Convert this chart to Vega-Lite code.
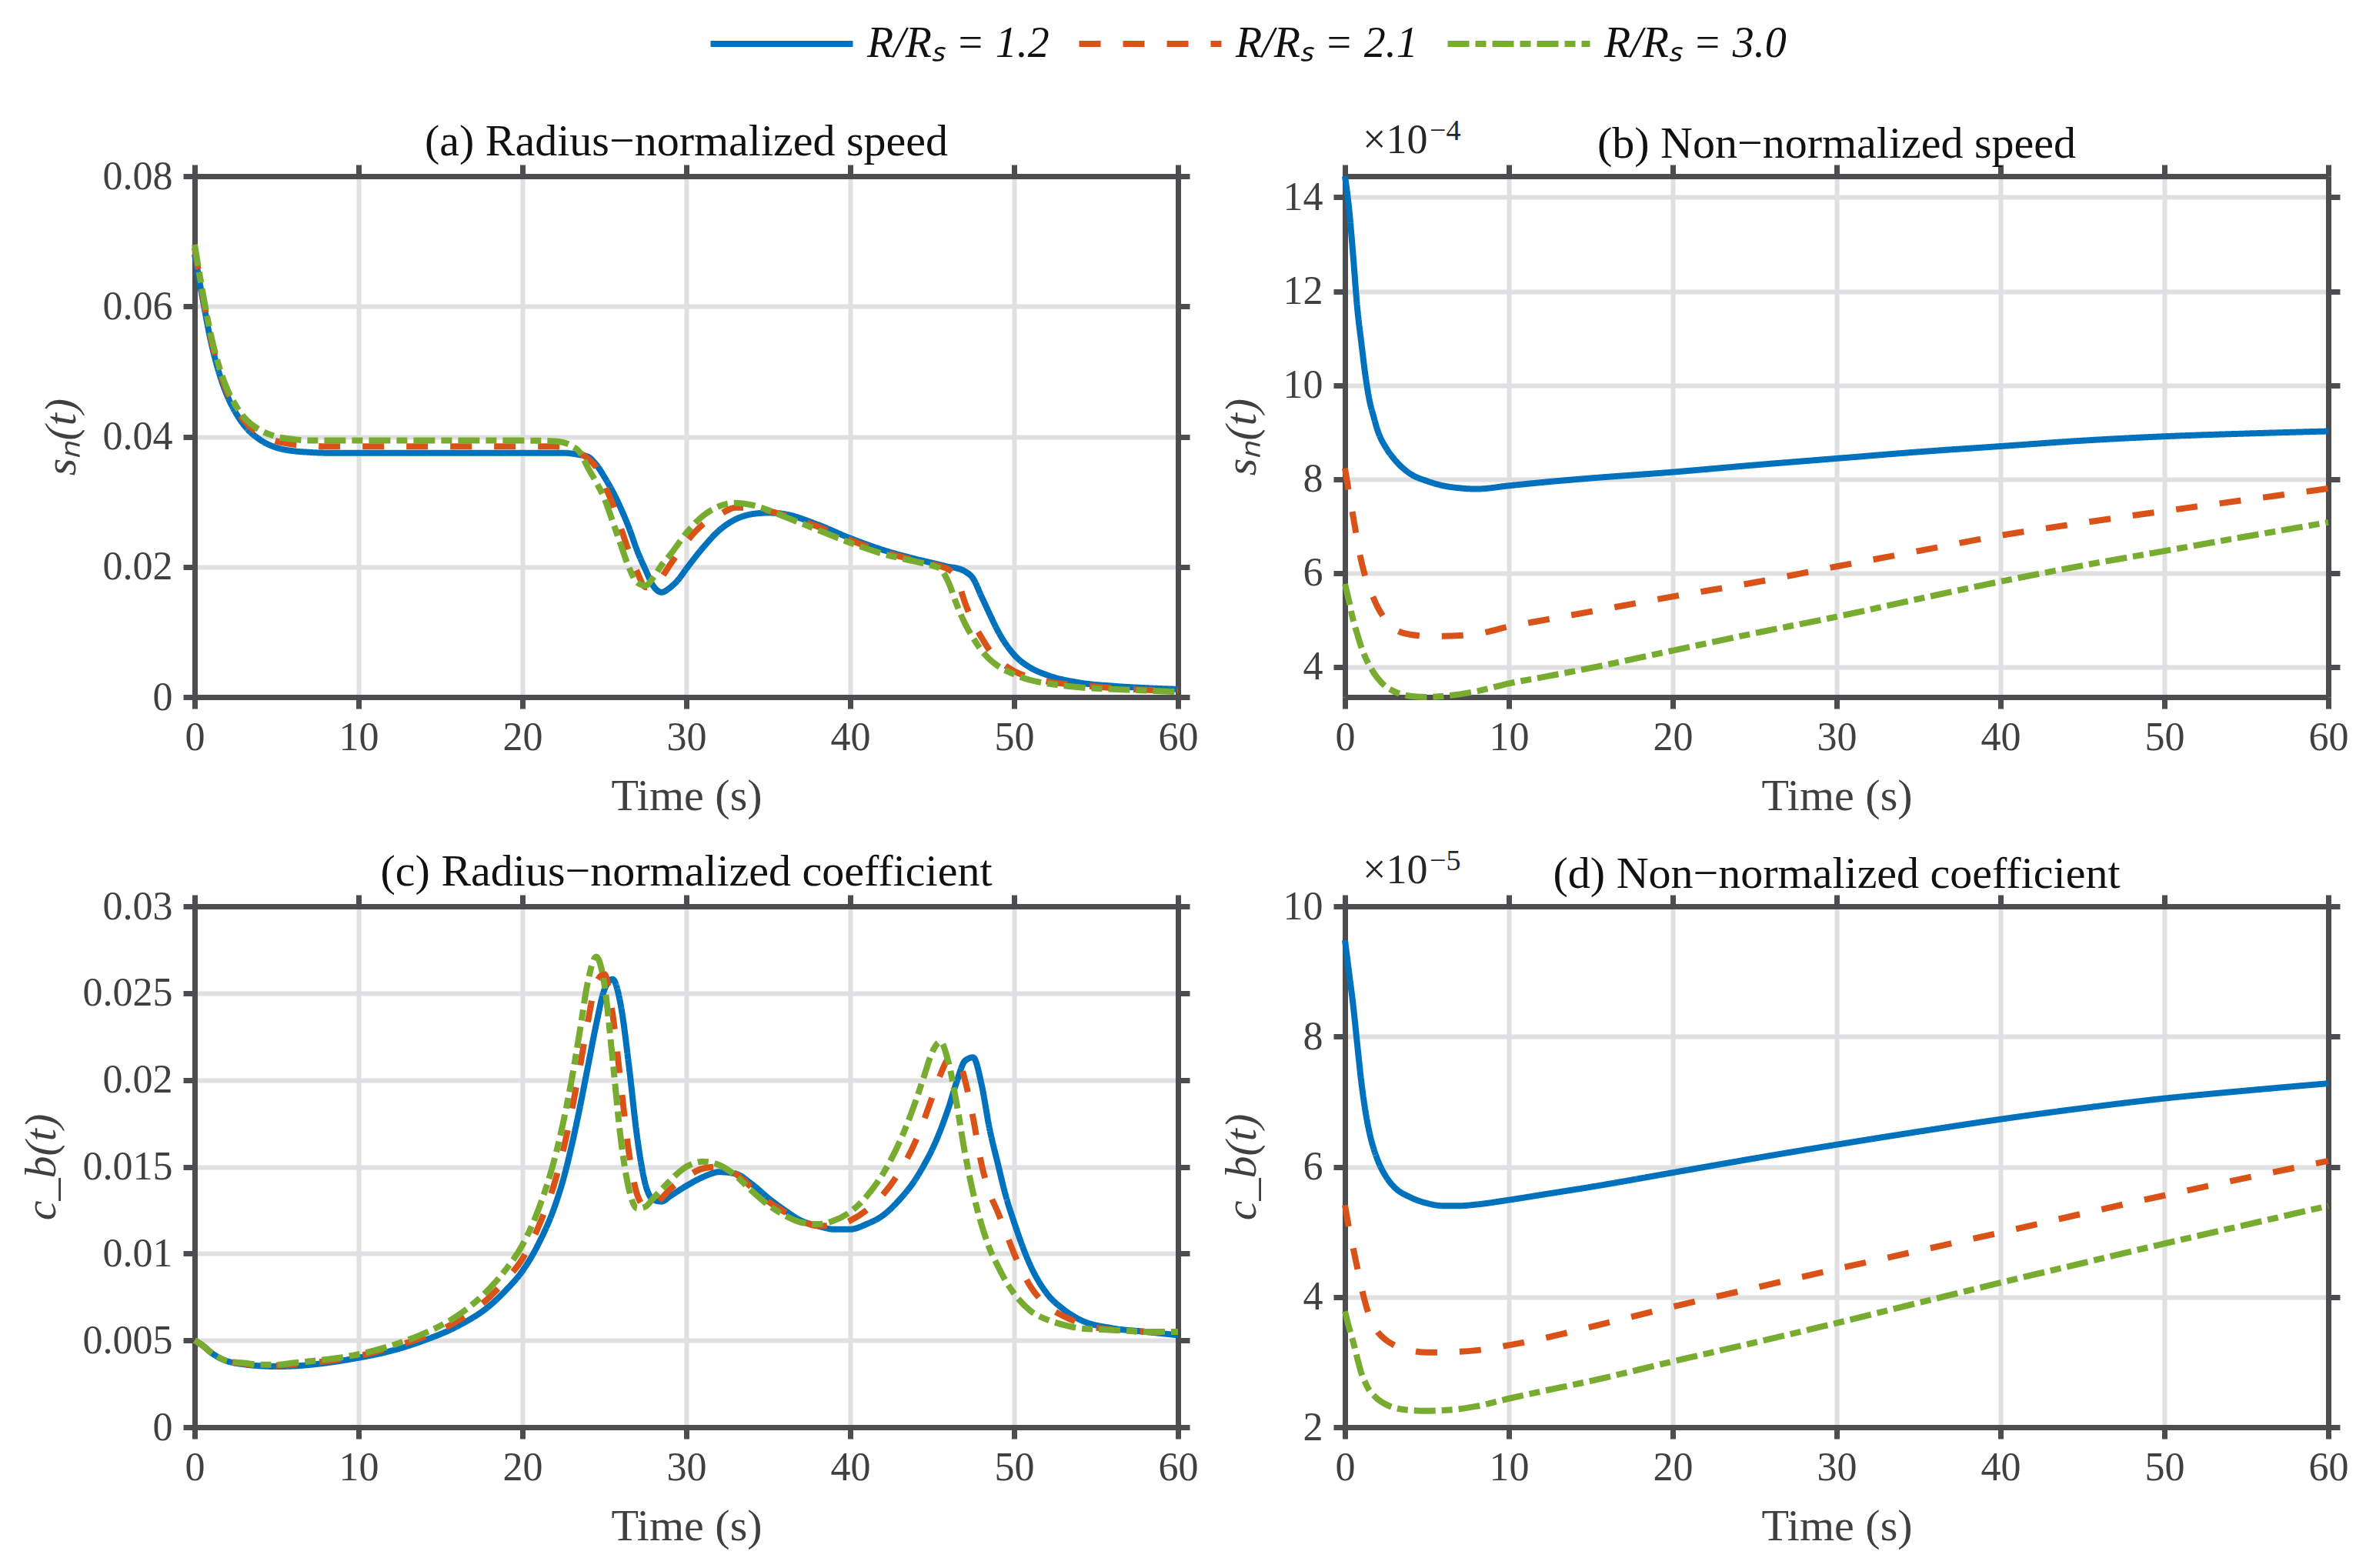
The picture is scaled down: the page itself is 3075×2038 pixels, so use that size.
{
  "$schema": "https://vega.github.io/schema/vega-lite/v6.json",
  "background": "white",
  "padding": {"left": 25, "top": 29, "right": 10, "bottom": 10},
  "datasets": {
    "a": [
      {"t": 0, "R12": 0.068, "R21": 0.069, "R30": 0.0695},
      {"t": 0.5, "R12": 0.061, "R21": 0.0615, "R30": 0.062},
      {"t": 1, "R12": 0.0545, "R21": 0.055, "R30": 0.0555},
      {"t": 1.5, "R12": 0.0497, "R21": 0.0502, "R30": 0.0507},
      {"t": 2, "R12": 0.0462, "R21": 0.0467, "R30": 0.0472},
      {"t": 2.5, "R12": 0.0437, "R21": 0.0443, "R30": 0.0448},
      {"t": 3, "R12": 0.0418, "R21": 0.0425, "R30": 0.043},
      {"t": 4, "R12": 0.0395, "R21": 0.0403, "R30": 0.041},
      {"t": 5, "R12": 0.0383, "R21": 0.0393, "R30": 0.04},
      {"t": 6, "R12": 0.0378, "R21": 0.0388, "R30": 0.0396},
      {"t": 7, "R12": 0.0376, "R21": 0.0386, "R30": 0.0394},
      {"t": 8, "R12": 0.0375, "R21": 0.0385, "R30": 0.0394},
      {"t": 10, "R12": 0.0375, "R21": 0.0385, "R30": 0.0394},
      {"t": 15, "R12": 0.0375, "R21": 0.0385, "R30": 0.0394},
      {"t": 20, "R12": 0.0375, "R21": 0.0385, "R30": 0.0394},
      {"t": 22, "R12": 0.0375, "R21": 0.0385, "R30": 0.0393},
      {"t": 22.5, "R12": 0.0375, "R21": 0.0384, "R30": 0.0391},
      {"t": 23, "R12": 0.0374, "R21": 0.0381, "R30": 0.0386},
      {"t": 23.5, "R12": 0.0372, "R21": 0.0375, "R30": 0.0376},
      {"t": 24, "R12": 0.0369, "R21": 0.0366, "R30": 0.0352},
      {"t": 24.5, "R12": 0.0357, "R21": 0.0353, "R30": 0.033},
      {"t": 25, "R12": 0.0338, "R21": 0.0326, "R30": 0.0305},
      {"t": 25.5, "R12": 0.0316, "R21": 0.0297, "R30": 0.027},
      {"t": 26, "R12": 0.029, "R21": 0.026, "R30": 0.0234},
      {"t": 26.5, "R12": 0.026, "R21": 0.0223, "R30": 0.0199},
      {"t": 27, "R12": 0.0225, "R21": 0.0192, "R30": 0.0176},
      {"t": 27.5, "R12": 0.0196, "R21": 0.0169, "R30": 0.0171},
      {"t": 28, "R12": 0.017, "R21": 0.0168, "R30": 0.0184},
      {"t": 28.5, "R12": 0.0161, "R21": 0.0184, "R30": 0.0203},
      {"t": 29, "R12": 0.0168, "R21": 0.0203, "R30": 0.0218},
      {"t": 29.5, "R12": 0.018, "R21": 0.0221, "R30": 0.0235},
      {"t": 30, "R12": 0.0197, "R21": 0.0238, "R30": 0.0252},
      {"t": 31, "R12": 0.0229, "R21": 0.0265, "R30": 0.0278},
      {"t": 32, "R12": 0.0256, "R21": 0.028, "R30": 0.0293},
      {"t": 33, "R12": 0.0273, "R21": 0.0291, "R30": 0.0298},
      {"t": 34, "R12": 0.0281, "R21": 0.0291, "R30": 0.0295},
      {"t": 35, "R12": 0.0283, "R21": 0.0286, "R30": 0.0287},
      {"t": 36, "R12": 0.0281, "R21": 0.0279, "R30": 0.0277},
      {"t": 38, "R12": 0.0265, "R21": 0.0262, "R30": 0.0257},
      {"t": 40, "R12": 0.0244, "R21": 0.0241, "R30": 0.0237},
      {"t": 42, "R12": 0.0226, "R21": 0.0223, "R30": 0.022},
      {"t": 44, "R12": 0.0212, "R21": 0.021, "R30": 0.0208},
      {"t": 45, "R12": 0.0206, "R21": 0.0204, "R30": 0.0202},
      {"t": 45.5, "R12": 0.0203, "R21": 0.0201, "R30": 0.0197},
      {"t": 46, "R12": 0.02, "R21": 0.0196, "R30": 0.0176},
      {"t": 46.5, "R12": 0.0198, "R21": 0.0183, "R30": 0.0142},
      {"t": 47, "R12": 0.0193, "R21": 0.0145, "R30": 0.0113},
      {"t": 47.5, "R12": 0.0182, "R21": 0.0115, "R30": 0.0091},
      {"t": 48, "R12": 0.0155, "R21": 0.0092, "R30": 0.0072},
      {"t": 48.5, "R12": 0.0128, "R21": 0.0072, "R30": 0.0058},
      {"t": 49, "R12": 0.0102, "R21": 0.0058, "R30": 0.0048},
      {"t": 50, "R12": 0.0065, "R21": 0.004, "R30": 0.0035},
      {"t": 51, "R12": 0.0045, "R21": 0.003, "R30": 0.0026},
      {"t": 52, "R12": 0.0034, "R21": 0.0024, "R30": 0.0021},
      {"t": 54, "R12": 0.0022, "R21": 0.0018, "R30": 0.0015},
      {"t": 56, "R12": 0.0017, "R21": 0.0014, "R30": 0.0012},
      {"t": 58, "R12": 0.0014, "R21": 0.0011, "R30": 0.001},
      {"t": 60, "R12": 0.0012, "R21": 0.001, "R30": 0.0008}
    ],
    "b": [
      {"t": 0, "R12": 14.45, "R21": 8.23, "R30": 5.77},
      {"t": 0.25, "R12": 13.75, "R21": 7.7, "R30": 5.4},
      {"t": 0.5, "R12": 12.75, "R21": 7.2, "R30": 5.0},
      {"t": 0.75, "R12": 11.65, "R21": 6.7, "R30": 4.7},
      {"t": 1, "R12": 10.9, "R21": 6.25, "R30": 4.42},
      {"t": 1.25, "R12": 10.2, "R21": 5.92, "R30": 4.2},
      {"t": 1.5, "R12": 9.67, "R21": 5.68, "R30": 4.03},
      {"t": 1.75, "R12": 9.33, "R21": 5.46, "R30": 3.88},
      {"t": 2, "R12": 9.03, "R21": 5.27, "R30": 3.76},
      {"t": 2.5, "R12": 8.67, "R21": 5.0, "R30": 3.58},
      {"t": 3, "R12": 8.43, "R21": 4.82, "R30": 3.48},
      {"t": 4, "R12": 8.11, "R21": 4.69, "R30": 3.38},
      {"t": 5, "R12": 7.96, "R21": 4.66, "R30": 3.36},
      {"t": 6, "R12": 7.86, "R21": 4.66, "R30": 3.38},
      {"t": 7, "R12": 7.81, "R21": 4.67, "R30": 3.42},
      {"t": 8, "R12": 7.79, "R21": 4.7, "R30": 3.48},
      {"t": 10, "R12": 7.86, "R21": 4.86, "R30": 3.65},
      {"t": 12, "R12": 7.93, "R21": 4.99, "R30": 3.78},
      {"t": 15, "R12": 8.02, "R21": 5.18, "R30": 3.98},
      {"t": 20, "R12": 8.15, "R21": 5.5, "R30": 4.35},
      {"t": 25, "R12": 8.3, "R21": 5.8, "R30": 4.72},
      {"t": 30, "R12": 8.44, "R21": 6.14, "R30": 5.07},
      {"t": 35, "R12": 8.58, "R21": 6.47, "R30": 5.45},
      {"t": 40, "R12": 8.7, "R21": 6.8, "R30": 5.82},
      {"t": 45, "R12": 8.82, "R21": 7.07, "R30": 6.16},
      {"t": 50, "R12": 8.91, "R21": 7.32, "R30": 6.47},
      {"t": 55, "R12": 8.97, "R21": 7.56, "R30": 6.78},
      {"t": 60, "R12": 9.02, "R21": 7.8, "R30": 7.08}
    ],
    "c": [
      {"t": 0, "R12": 0.005, "R21": 0.005, "R30": 0.005},
      {"t": 0.5, "R12": 0.0047, "R21": 0.0047, "R30": 0.0047},
      {"t": 1, "R12": 0.0043, "R21": 0.0043, "R30": 0.0043},
      {"t": 1.5, "R12": 0.004, "R21": 0.004, "R30": 0.004},
      {"t": 2, "R12": 0.0038, "R21": 0.0038, "R30": 0.0038},
      {"t": 3, "R12": 0.00362, "R21": 0.00365, "R30": 0.0037},
      {"t": 4, "R12": 0.00353, "R21": 0.00357, "R30": 0.0036},
      {"t": 5, "R12": 0.0035, "R21": 0.00356, "R30": 0.0036},
      {"t": 6, "R12": 0.00352, "R21": 0.0036, "R30": 0.0037},
      {"t": 8, "R12": 0.0037, "R21": 0.0038, "R30": 0.0039},
      {"t": 10, "R12": 0.004, "R21": 0.0041, "R30": 0.0042},
      {"t": 12, "R12": 0.0044, "R21": 0.0046, "R30": 0.0047},
      {"t": 14, "R12": 0.005, "R21": 0.0052, "R30": 0.0054},
      {"t": 16, "R12": 0.0058, "R21": 0.0061, "R30": 0.0064},
      {"t": 18, "R12": 0.007, "R21": 0.0075, "R30": 0.008},
      {"t": 19, "R12": 0.0079, "R21": 0.0085, "R30": 0.0091},
      {"t": 20, "R12": 0.009, "R21": 0.0097, "R30": 0.0105},
      {"t": 21, "R12": 0.0106, "R21": 0.0116, "R30": 0.0126},
      {"t": 22, "R12": 0.0128, "R21": 0.0142, "R30": 0.0156},
      {"t": 22.5, "R12": 0.0143, "R21": 0.016, "R30": 0.0176},
      {"t": 23, "R12": 0.0162, "R21": 0.0182, "R30": 0.02},
      {"t": 23.5, "R12": 0.0184, "R21": 0.0207, "R30": 0.0228},
      {"t": 24, "R12": 0.0208, "R21": 0.0234, "R30": 0.0257},
      {"t": 24.5, "R12": 0.0232, "R21": 0.0256, "R30": 0.0271},
      {"t": 25, "R12": 0.0252, "R21": 0.0261, "R30": 0.0255},
      {"t": 25.5, "R12": 0.0258, "R21": 0.0238, "R30": 0.0212},
      {"t": 26, "R12": 0.0243, "R21": 0.0198, "R30": 0.0166},
      {"t": 26.5, "R12": 0.0208, "R21": 0.0158, "R30": 0.0137},
      {"t": 27, "R12": 0.0167, "R21": 0.0134, "R30": 0.0126},
      {"t": 27.5, "R12": 0.014, "R21": 0.0127, "R30": 0.0127},
      {"t": 28, "R12": 0.0131, "R21": 0.0128, "R30": 0.0132},
      {"t": 28.5, "R12": 0.013, "R21": 0.0132, "R30": 0.0137},
      {"t": 29, "R12": 0.0133, "R21": 0.0137, "R30": 0.0142},
      {"t": 30, "R12": 0.0139, "R21": 0.0144, "R30": 0.015},
      {"t": 31, "R12": 0.0144, "R21": 0.0149, "R30": 0.0153},
      {"t": 32, "R12": 0.0147, "R21": 0.015, "R30": 0.0151},
      {"t": 33, "R12": 0.0146, "R21": 0.0146, "R30": 0.0145},
      {"t": 34, "R12": 0.014, "R21": 0.0138, "R30": 0.0136},
      {"t": 35, "R12": 0.0132, "R21": 0.013, "R30": 0.0128},
      {"t": 36, "R12": 0.0125, "R21": 0.0124, "R30": 0.0122},
      {"t": 37, "R12": 0.0119, "R21": 0.0119, "R30": 0.0118},
      {"t": 38, "R12": 0.0116, "R21": 0.0116, "R30": 0.0117},
      {"t": 39, "R12": 0.0114, "R21": 0.0116, "R30": 0.0119},
      {"t": 40, "R12": 0.0114, "R21": 0.0119, "R30": 0.0124},
      {"t": 41, "R12": 0.0117, "R21": 0.0125, "R30": 0.0133},
      {"t": 42, "R12": 0.0122, "R21": 0.0134, "R30": 0.0146},
      {"t": 43, "R12": 0.0131, "R21": 0.0147, "R30": 0.0164},
      {"t": 44, "R12": 0.0143, "R21": 0.0165, "R30": 0.0188},
      {"t": 44.5, "R12": 0.0151, "R21": 0.0177, "R30": 0.0202},
      {"t": 45, "R12": 0.016, "R21": 0.019, "R30": 0.0216},
      {"t": 45.5, "R12": 0.0171, "R21": 0.0203, "R30": 0.0222},
      {"t": 46, "R12": 0.0184, "R21": 0.0212, "R30": 0.021},
      {"t": 46.5, "R12": 0.0199, "R21": 0.0213, "R30": 0.0186},
      {"t": 47, "R12": 0.0211, "R21": 0.02, "R30": 0.0158},
      {"t": 47.5, "R12": 0.0213, "R21": 0.0178, "R30": 0.0135},
      {"t": 48, "R12": 0.0198, "R21": 0.0152, "R30": 0.0117},
      {"t": 48.5, "R12": 0.0172, "R21": 0.0135, "R30": 0.0103},
      {"t": 49, "R12": 0.0152, "R21": 0.0124, "R30": 0.0093},
      {"t": 49.5, "R12": 0.0133, "R21": 0.0112, "R30": 0.0084},
      {"t": 50, "R12": 0.0118, "R21": 0.01, "R30": 0.0077},
      {"t": 51, "R12": 0.0093, "R21": 0.0081, "R30": 0.0067},
      {"t": 52, "R12": 0.0077, "R21": 0.007, "R30": 0.0062},
      {"t": 53, "R12": 0.0068, "R21": 0.0064, "R30": 0.0059},
      {"t": 54, "R12": 0.0062, "R21": 0.006, "R30": 0.0057},
      {"t": 56, "R12": 0.0057, "R21": 0.0056, "R30": 0.0056},
      {"t": 58, "R12": 0.0055, "R21": 0.0055, "R30": 0.0055},
      {"t": 60, "R12": 0.0053, "R21": 0.0054, "R30": 0.0055}
    ],
    "d": [
      {"t": 0, "R12": 9.48, "R21": 5.41, "R30": 3.78},
      {"t": 0.25, "R12": 8.98, "R21": 5.05, "R30": 3.53},
      {"t": 0.5, "R12": 8.48, "R21": 4.75, "R30": 3.31},
      {"t": 0.75, "R12": 7.88, "R21": 4.45, "R30": 3.06},
      {"t": 1, "R12": 7.3, "R21": 4.15, "R30": 2.83},
      {"t": 1.25, "R12": 6.85, "R21": 3.9, "R30": 2.68},
      {"t": 1.5, "R12": 6.52, "R21": 3.7, "R30": 2.56},
      {"t": 1.75, "R12": 6.28, "R21": 3.56, "R30": 2.49},
      {"t": 2, "R12": 6.1, "R21": 3.46, "R30": 2.43},
      {"t": 2.5, "R12": 5.85, "R21": 3.34, "R30": 2.35},
      {"t": 3, "R12": 5.69, "R21": 3.26, "R30": 2.3},
      {"t": 4, "R12": 5.53, "R21": 3.18, "R30": 2.26},
      {"t": 5, "R12": 5.44, "R21": 3.15, "R30": 2.25},
      {"t": 6, "R12": 5.4, "R21": 3.15, "R30": 2.26},
      {"t": 7, "R12": 5.4, "R21": 3.16, "R30": 2.28},
      {"t": 8, "R12": 5.42, "R21": 3.18, "R30": 2.32},
      {"t": 10, "R12": 5.49, "R21": 3.26, "R30": 2.44},
      {"t": 12, "R12": 5.57, "R21": 3.36, "R30": 2.55},
      {"t": 15, "R12": 5.69, "R21": 3.54, "R30": 2.71},
      {"t": 20, "R12": 5.91, "R21": 3.85, "R30": 3.01},
      {"t": 25, "R12": 6.13, "R21": 4.14, "R30": 3.3},
      {"t": 30, "R12": 6.34, "R21": 4.43, "R30": 3.6},
      {"t": 35, "R12": 6.54, "R21": 4.71, "R30": 3.91},
      {"t": 40, "R12": 6.73, "R21": 4.99, "R30": 4.22},
      {"t": 45, "R12": 6.9, "R21": 5.28, "R30": 4.52},
      {"t": 50, "R12": 7.05, "R21": 5.56, "R30": 4.82},
      {"t": 55, "R12": 7.17, "R21": 5.83, "R30": 5.11},
      {"t": 60, "R12": 7.28, "R21": 6.09, "R30": 5.4}
    ]
  },
  "columns": 2,
  "bounds": "flush",
  "spacing": {"row": 272, "column": 217},
  "resolve": {
    "scale": {"color": "shared", "strokeDash": "shared"},
    "legend": {"color": "shared", "strokeDash": "shared"}
  },
  "concat": [
    {
      "width": 1278,
      "height": 677,
      "title": {"text": "(a) Radius−normalized speed", "offset": -11},
      "layer": [
        {
          "data": {"name": "a"},
          "transform": [{"fold": ["R12", "R21", "R30"], "as": ["R", "v"]}],
          "mark": {"type": "line", "strokeWidth": 8, "interpolate": "monotone"},
          "encoding": {
            "x": {"field": "t", "type": "quantitative", "scale": {"domain": [0, 60], "nice": false}, "axis": {"values": [0, 10, 20, 30, 40, 50, 60], "title": "Time (s)"}},
            "y": {"field": "v", "type": "quantitative", "scale": {"domain": [0, 0.08], "nice": false}, "axis": {"values": [0, 0.02, 0.04, 0.06, 0.08], "format": "~g", "title": "sₙ(t)", "titleFontStyle": "italic"}},
            "color": {"field": "R", "type": "nominal", "scale": {"domain": ["R12", "R21", "R30"], "range": ["#0072BD", "#D95319", "#77AC30"]}, "legend": {"title": null, "labelExpr": "datum.label == 'R12' ? 'R/Rₛ = 1.2' : datum.label == 'R21' ? 'R/Rₛ = 2.1' : 'R/Rₛ = 3.0'"}},
            "strokeDash": {"field": "R", "type": "nominal", "scale": {"domain": ["R12", "R21", "R30"], "range": [[1, 0], [28, 29], [28, 8, 14, 8]]}, "legend": {"title": null, "labelExpr": "datum.label == 'R12' ? 'R/Rₛ = 1.2' : datum.label == 'R21' ? 'R/Rₛ = 2.1' : 'R/Rₛ = 3.0'"}}
          }
        },
        {
          "data": {"values": [{}]},
          "mark": {"type": "text", "align": "left", "baseline": "alphabetic"},
          "encoding": {
            "x": {"datum": 0, "type": "quantitative", "axis": {"orient": "top", "values": [0, 10, 20, 30, 40, 50, 60], "labels": false, "grid": false, "title": null}},
            "y": {"datum": 0.08, "type": "quantitative", "axis": {"orient": "right", "values": [0, 0.02, 0.04, 0.06, 0.08], "labels": false, "grid": false, "title": null}},
            "text": {"value": ""}
          }
        }
      ],
      "resolve": {"axis": {"x": "independent", "y": "independent"}}
    },
    {
      "width": 1278,
      "height": 677,
      "title": {"text": "(b) Non−normalized speed", "offset": -65},
      "layer": [
        {
          "data": {"name": "b"},
          "transform": [{"fold": ["R12", "R21", "R30"], "as": ["R", "v"]}],
          "mark": {"type": "line", "strokeWidth": 8, "interpolate": "monotone"},
          "encoding": {
            "x": {"field": "t", "type": "quantitative", "scale": {"domain": [0, 60], "nice": false}, "axis": {"values": [0, 10, 20, 30, 40, 50, 60], "title": "Time (s)"}},
            "y": {"field": "v", "type": "quantitative", "scale": {"domain": [3.36, 14.45], "nice": false, "zero": false}, "axis": {"values": [4, 6, 8, 10, 12, 14], "title": "sₙ(t)", "titleFontStyle": "italic"}},
            "color": {"field": "R", "type": "nominal", "scale": {"domain": ["R12", "R21", "R30"], "range": ["#0072BD", "#D95319", "#77AC30"]}, "legend": {"title": null, "labelExpr": "datum.label == 'R12' ? 'R/Rₛ = 1.2' : datum.label == 'R21' ? 'R/Rₛ = 2.1' : 'R/Rₛ = 3.0'"}},
            "strokeDash": {"field": "R", "type": "nominal", "scale": {"domain": ["R12", "R21", "R30"], "range": [[1, 0], [28, 29], [28, 8, 14, 8]]}, "legend": {"title": null, "labelExpr": "datum.label == 'R12' ? 'R/Rₛ = 1.2' : datum.label == 'R21' ? 'R/Rₛ = 2.1' : 'R/Rₛ = 3.0'"}}
          }
        },
        {
          "data": {"values": [{}]},
          "mark": {"type": "text", "align": "left", "baseline": "alphabetic", "dx": 23, "dy": -30, "fontSize": 54, "color": "#262626"},
          "encoding": {
            "x": {"datum": 0, "type": "quantitative", "axis": {"orient": "top", "values": [0, 10, 20, 30, 40, 50, 60], "labels": false, "grid": false, "title": null}},
            "y": {"datum": 14.45, "type": "quantitative", "axis": {"orient": "right", "values": [4, 6, 8, 10, 12, 14], "labels": false, "grid": false, "title": null}},
            "text": {"value": "×10"}
          }
        },
        {
          "data": {"values": [{}]},
          "mark": {"type": "text", "align": "left", "baseline": "alphabetic", "dx": 110, "dy": -47, "fontSize": 38, "color": "#262626"},
          "encoding": {
            "x": {"datum": 0, "type": "quantitative", "axis": null},
            "y": {"datum": 14.45, "type": "quantitative", "axis": null},
            "text": {"value": "−4"}
          }
        }
      ],
      "resolve": {"axis": {"x": "independent", "y": "independent"}}
    },
    {
      "width": 1278,
      "height": 677,
      "title": {"text": "(c) Radius−normalized coefficient", "offset": -11},
      "layer": [
        {
          "data": {"name": "c"},
          "transform": [{"fold": ["R12", "R21", "R30"], "as": ["R", "v"]}],
          "mark": {"type": "line", "strokeWidth": 8, "interpolate": "monotone"},
          "encoding": {
            "x": {"field": "t", "type": "quantitative", "scale": {"domain": [0, 60], "nice": false}, "axis": {"values": [0, 10, 20, 30, 40, 50, 60], "title": "Time (s)"}},
            "y": {"field": "v", "type": "quantitative", "scale": {"domain": [0, 0.03], "nice": false}, "axis": {"values": [0, 0.005, 0.01, 0.015, 0.02, 0.025, 0.03], "format": "~g", "title": "c_b(t)", "titleFontStyle": "italic"}},
            "color": {"field": "R", "type": "nominal", "scale": {"domain": ["R12", "R21", "R30"], "range": ["#0072BD", "#D95319", "#77AC30"]}, "legend": {"title": null, "labelExpr": "datum.label == 'R12' ? 'R/Rₛ = 1.2' : datum.label == 'R21' ? 'R/Rₛ = 2.1' : 'R/Rₛ = 3.0'"}},
            "strokeDash": {"field": "R", "type": "nominal", "scale": {"domain": ["R12", "R21", "R30"], "range": [[1, 0], [28, 29], [28, 8, 14, 8]]}, "legend": {"title": null, "labelExpr": "datum.label == 'R12' ? 'R/Rₛ = 1.2' : datum.label == 'R21' ? 'R/Rₛ = 2.1' : 'R/Rₛ = 3.0'"}}
          }
        },
        {
          "data": {"values": [{}]},
          "mark": {"type": "text", "align": "left", "baseline": "alphabetic"},
          "encoding": {
            "x": {"datum": 0, "type": "quantitative", "axis": {"orient": "top", "values": [0, 10, 20, 30, 40, 50, 60], "labels": false, "grid": false, "title": null}},
            "y": {"datum": 0.03, "type": "quantitative", "axis": {"orient": "right", "values": [0, 0.005, 0.01, 0.015, 0.02, 0.025, 0.03], "labels": false, "grid": false, "title": null}},
            "text": {"value": ""}
          }
        }
      ],
      "resolve": {"axis": {"x": "independent", "y": "independent"}}
    },
    {
      "width": 1278,
      "height": 677,
      "title": {"text": "(d) Non−normalized coefficient", "offset": -65},
      "layer": [
        {
          "data": {"name": "d"},
          "transform": [{"fold": ["R12", "R21", "R30"], "as": ["R", "v"]}],
          "mark": {"type": "line", "strokeWidth": 8, "interpolate": "monotone"},
          "encoding": {
            "x": {"field": "t", "type": "quantitative", "scale": {"domain": [0, 60], "nice": false}, "axis": {"values": [0, 10, 20, 30, 40, 50, 60], "title": "Time (s)"}},
            "y": {"field": "v", "type": "quantitative", "scale": {"domain": [2, 10], "nice": false, "zero": false}, "axis": {"values": [2, 4, 6, 8, 10], "title": "c_b(t)", "titleFontStyle": "italic"}},
            "color": {"field": "R", "type": "nominal", "scale": {"domain": ["R12", "R21", "R30"], "range": ["#0072BD", "#D95319", "#77AC30"]}, "legend": {"title": null, "labelExpr": "datum.label == 'R12' ? 'R/Rₛ = 1.2' : datum.label == 'R21' ? 'R/Rₛ = 2.1' : 'R/Rₛ = 3.0'"}},
            "strokeDash": {"field": "R", "type": "nominal", "scale": {"domain": ["R12", "R21", "R30"], "range": [[1, 0], [28, 29], [28, 8, 14, 8]]}, "legend": {"title": null, "labelExpr": "datum.label == 'R12' ? 'R/Rₛ = 1.2' : datum.label == 'R21' ? 'R/Rₛ = 2.1' : 'R/Rₛ = 3.0'"}}
          }
        },
        {
          "data": {"values": [{}]},
          "mark": {"type": "text", "align": "left", "baseline": "alphabetic", "dx": 23, "dy": -30, "fontSize": 54, "color": "#262626"},
          "encoding": {
            "x": {"datum": 0, "type": "quantitative", "axis": {"orient": "top", "values": [0, 10, 20, 30, 40, 50, 60], "labels": false, "grid": false, "title": null}},
            "y": {"datum": 10, "type": "quantitative", "axis": {"orient": "right", "values": [2, 4, 6, 8, 10], "labels": false, "grid": false, "title": null}},
            "text": {"value": "×10"}
          }
        },
        {
          "data": {"values": [{}]},
          "mark": {"type": "text", "align": "left", "baseline": "alphabetic", "dx": 110, "dy": -47, "fontSize": 38, "color": "#262626"},
          "encoding": {
            "x": {"datum": 0, "type": "quantitative", "axis": null},
            "y": {"datum": 10, "type": "quantitative", "axis": null},
            "text": {"value": "−5"}
          }
        }
      ],
      "resolve": {"axis": {"x": "independent", "y": "independent"}}
    }
  ],
  "config": {
    "font": "Liberation Serif",
    "view": {"stroke": null},
    "axis": {
      "labelFont": "Liberation Serif",
      "labelFontSize": 52,
      "labelColor": "#404040",
      "labelFlush": false,
      "titleFont": "Liberation Serif",
      "titleFontSize": 58,
      "titleFontWeight": "normal",
      "titleColor": "#404040",
      "domain": true,
      "domainColor": "#4d4d4f",
      "domainWidth": 7,
      "tickColor": "#4d4d4f",
      "tickWidth": 7,
      "tickSize": 15,
      "gridColor": "#e0e0e2",
      "gridWidth": 6,
      "gridOpacity": 1
    },
    "axisX": {"labelPadding": 12, "titlePadding": 22},
    "axisY": {"labelPadding": 14, "titlePadding": 24},
    "title": {
      "font": "Liberation Serif",
      "fontSize": 58,
      "fontWeight": "normal",
      "color": "#111111",
      "anchor": "middle",
      "frame": "group",
      "baseline": "alphabetic"
    },
    "legend": {
      "orient": "none",
      "legendX": 735,
      "legendY": -200,
      "direction": "horizontal",
      "symbolType": "M-4,0H4",
      "symbolSize": 2139,
      "symbolStrokeWidth": 8,
      "labelFont": "Liberation Serif",
      "labelFontSize": 56,
      "labelFontStyle": "italic",
      "labelColor": "#111111",
      "labelLimit": 500,
      "labelOffset": 83,
      "columnPadding": 22,
      "padding": 0
    }
  }
}
